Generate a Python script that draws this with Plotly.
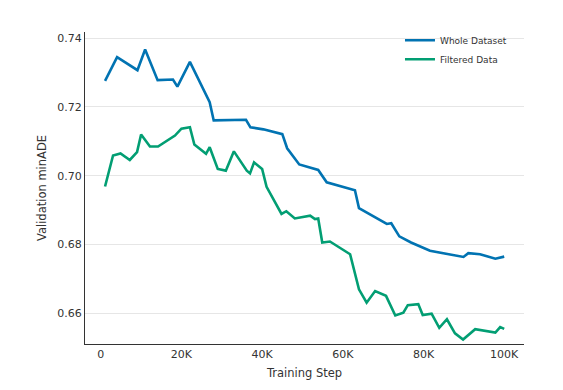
import plotly.graph_objects as go

whole_x = [1.07, 4.05, 9.1, 11.0, 14.1, 17.9, 19.0, 22.1, 27.0, 28.0, 36.0, 37.1, 40.3, 45.0, 46.2,
           49.2, 53.9, 56.0, 63.0, 64.0, 70.9, 72.0, 74.0, 76.9, 81.6, 89.9, 91.1, 94.0, 97.8, 100.0]
whole_y = [0.7276, 0.7345, 0.7307, 0.7367, 0.7278, 0.7280, 0.7259, 0.7331, 0.7214, 0.7161, 0.7163,
           0.7141, 0.7135, 0.7121, 0.7080, 0.7033, 0.7017, 0.6981, 0.6958, 0.6906, 0.6860, 0.6862,
           0.6824, 0.6806, 0.6782, 0.6764, 0.6775, 0.6772, 0.6759, 0.6765]

filt_x = [1.07, 3.05, 4.9, 7.2, 9.0, 10.0, 12.2, 14.2, 18.4, 20.0, 22.1, 23.2, 26.1, 27.0, 29.0,
          31.0, 33.0, 36.2, 37.0, 38.0, 40.0, 41.1, 44.8, 46.0, 48.1, 51.9, 53.1, 53.9, 54.9, 56.8,
          61.8, 64.0, 65.9, 68.0, 70.7, 73.0, 75.0, 76.1, 78.7, 79.8, 82.0, 83.9, 85.8, 87.8, 89.8,
          92.8, 97.8, 99.0, 100.0]
filt_y = [0.6969, 0.7059, 0.7065, 0.7046, 0.7069, 0.7120, 0.7085, 0.7085, 0.7117, 0.7137, 0.7141,
          0.7091, 0.7064, 0.7083, 0.7020, 0.7015, 0.7071, 0.7015, 0.7007, 0.7039, 0.7020, 0.6968,
          0.6889, 0.6897, 0.6876, 0.6884, 0.6874, 0.6876, 0.6806, 0.6809, 0.6772, 0.6670, 0.6631,
          0.6665, 0.6651, 0.6594, 0.6602, 0.6624, 0.6627, 0.6595, 0.6599, 0.6558, 0.6583, 0.6542,
          0.6524, 0.6554, 0.6544, 0.6560, 0.6555]

x_ticks = [0, 20, 40, 60, 80, 100]
x_tick_labels = ["0", "20K", "40K", "60K", "80K", "100K"]
y_ticks = [0.66, 0.68, 0.70, 0.72, 0.74]
y_tick_labels = ["0.66", "0.68", "0.70", "0.72", "0.74"]

fig = go.Figure()
fig.add_trace(go.Scatter(x=whole_x, y=whole_y, mode="lines", name="Whole Dataset",
                         line=dict(color="#0173B2", width=2.6)))
fig.add_trace(go.Scatter(x=filt_x, y=filt_y, mode="lines", name="Filtered Data",
                         line=dict(color="#029E73", width=2.6)))

# page body has an 8px default margin, so the figure is sized to fit the window
fig.update_layout(
    width=555, height=382,
    margin=dict(l=77, r=39, t=24, b=46, autoexpand=False),
    paper_bgcolor="white", plot_bgcolor="white",
    font=dict(family="DejaVu Sans", size=11, color="#333333"),
    showlegend=True,
    legend=dict(x=0.7175, y=1.02, xanchor="left", yanchor="top",
                font=dict(size=9, color="#333333"), bgcolor="rgba(255,255,255,0)",
                tracegroupgap=0, itemwidth=30),
    xaxis=dict(range=[-3.9, 104.9], tickvals=x_ticks, ticktext=x_tick_labels,
               showgrid=False, zeroline=False, showline=True, linecolor="#333333", linewidth=1.2,
               ticks="", automargin=False,
               title=dict(text="Training Step", font=dict(size=11.5), standoff=8)),
    yaxis=dict(range=[0.6511, 0.7418], tickvals=y_ticks, ticktext=y_tick_labels,
               showgrid=True, gridcolor="#e6e6e6", gridwidth=1, zeroline=False,
               showline=True, linecolor="#333333", linewidth=1.2, ticks="", automargin=False,
               title=dict(text="Validation minADE", font=dict(size=11.5), standoff=8)),
)

fig.write_html("out.html")
